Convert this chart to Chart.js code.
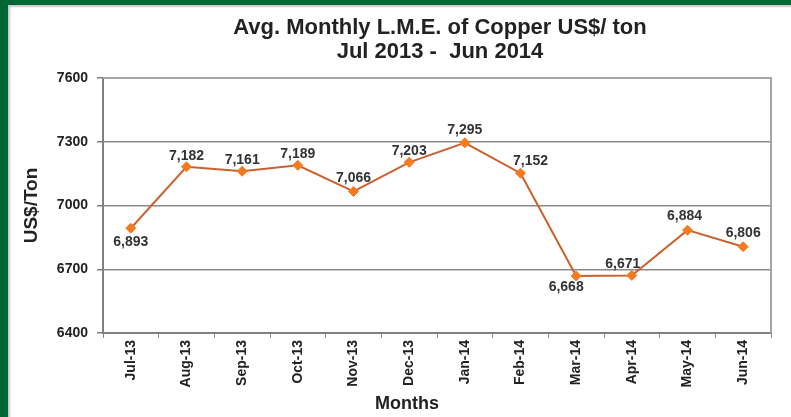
<!DOCTYPE html>
<html>
<head>
<meta charset="utf-8">
<script src="https://cdn.jsdelivr.net/npm/chart.js@4.4.1/dist/chart.umd.min.js"></script>
<style>
  html, body { margin: 0; padding: 0; background: #fff; }
  #wrap {
    position: absolute; left: 0; top: 0;
    width: 783px; height: 412px;
    border-left: 8px solid #006837;
    border-top: 5px solid #006837;
    box-shadow: inset 2px 2px 2px #c8c8c8;
  }
  canvas { display: block; }
</style>
</head>
<body>
<div id="wrap"><canvas id="copper" width="783" height="412"></canvas></div>
<script>
var months = ["Jul-13", "Aug-13", "Sep-13", "Oct-13", "Nov-13", "Dec-13",
              "Jan-14", "Feb-14", "Mar-14", "Apr-14", "May-14", "Jun-14"];
var lmePrice = [6893, 7182, 7161, 7189, 7066, 7203, 7295, 7152, 6668, 6671, 6884, 6806];
var yTicks = [6400, 6700, 7000, 7300, 7600];
var titleLines = ["Avg. Monthly L.M.E. of Copper US$/ ton", "Jul 2013 -  Jun 2014"];

// where each value label sits relative to its point (dx, dy)
var labelShift = [[0, 14], [0, -11], [0, -11], [0, -11], [0, -13], [0, -11],
                  [0, -13], [10, -12], [-10, 11], [-9, -11], [-3, -14], [0, -14]];

var txt = "#222";
var boldFont = "'Liberation Sans', Arial, sans-serif";

var framePlugin = {
  id: "frame",
  beforeDatasetsDraw: function (chart) {
    var a = chart.chartArea, c = chart.ctx;
    c.save();
    c.strokeStyle = "#a6a6a6";
    c.lineWidth = 2;
    c.beginPath();
    c.moveTo(a.left, a.top);
    c.lineTo(a.right, a.top);
    c.lineTo(a.right, a.bottom);
    c.stroke();
    c.restore();
  },
  afterDraw: function (chart) {
    var a = chart.chartArea, c = chart.ctx;
    c.save();
    c.fillStyle = txt;
    c.textAlign = "center";
    c.textBaseline = "middle";
    c.font = "bold 22px 'Liberation Sans Narrow', " + boldFont;
    var cx = (a.left + a.right) / 2 + 3;
    c.fillText(titleLines[0], cx, 23);
    c.fillText(titleLines[1], cx, 47);
    c.font = "bold 18px " + boldFont;
    c.fillText("Months", cx - 33, 399);
    c.restore();
  }
};

var valueLabels = {
  id: "valueLabels",
  afterDatasetsDraw: function (chart) {
    var c = chart.ctx;
    var pts = chart.getDatasetMeta(0).data;
    c.save();
    c.font = "bold 14px " + boldFont;
    c.fillStyle = "#333";
    c.textAlign = "center";
    c.textBaseline = "middle";
    pts.forEach(function (p, i) {
      var s = labelShift[i];
      c.fillText(lmePrice[i].toLocaleString("en-US"), p.x + s[0], p.y + s[1]);
    });
    c.restore();
  }
};

Chart.defaults.font.family = boldFont;
Chart.defaults.color = txt;

new Chart(document.getElementById("copper"), {
  type: "line",
  data: {
    labels: months,
    datasets: [{
      label: "L.M.E. Copper",
      data: lmePrice,
      borderColor: "#c9622e",
      borderWidth: 2,
      tension: 0,
      pointStyle: "rectRot",
      pointRadius: 5,
      pointBackgroundColor: "#f47a1f",
      pointBorderColor: "#f47a1f",
      pointBorderWidth: 1
    }]
  },
  options: {
    responsive: false,
    animation: false,
    layout: { padding: { top: 73, right: 20, left: 0, bottom: 0 } },
    plugins: {
      legend: { display: false },
      tooltip: { enabled: false }
    },
    scales: {
      x: {
        offset: true,
        afterFit: function (s) { s.height = 84; },
        grid: {
          offset: true,
          drawOnChartArea: false,
          drawTicks: true,
          tickLength: 5,
          tickColor: "#8a8a8a"
        },
        border: { display: true, color: "#808080", width: 2 },
        ticks: {
          autoSkip: false,
          minRotation: 90,
          maxRotation: 90,
          padding: 2,
          color: txt,
          font: { size: 14, weight: "bold" }
        }
      },
      y: {
        min: 6400,
        max: 7600,
        afterFit: function (s) { s.width = 95; },
        afterBuildTicks: function (s) {
          s.ticks = yTicks.map(function (v) { return { value: v }; });
        },
        grid: {
          color: "#8a8a8a",
          lineWidth: 1.5,
          drawTicks: true,
          tickLength: 6,
          tickColor: "#808080"
        },
        border: { display: true, color: "#808080", width: 2 },
        ticks: {
          padding: 9,
          color: txt,
          font: { size: 14, weight: "bold" },
          callback: function (v) { return String(v); }
        },
        title: {
          display: true,
          text: "US$/Ton",
          color: txt,
          padding: { top: 12, bottom: 0 },
          font: { size: 19, weight: "bold" }
        }
      }
    }
  },
  plugins: [framePlugin, valueLabels]
});
</script>
</body>
</html>
